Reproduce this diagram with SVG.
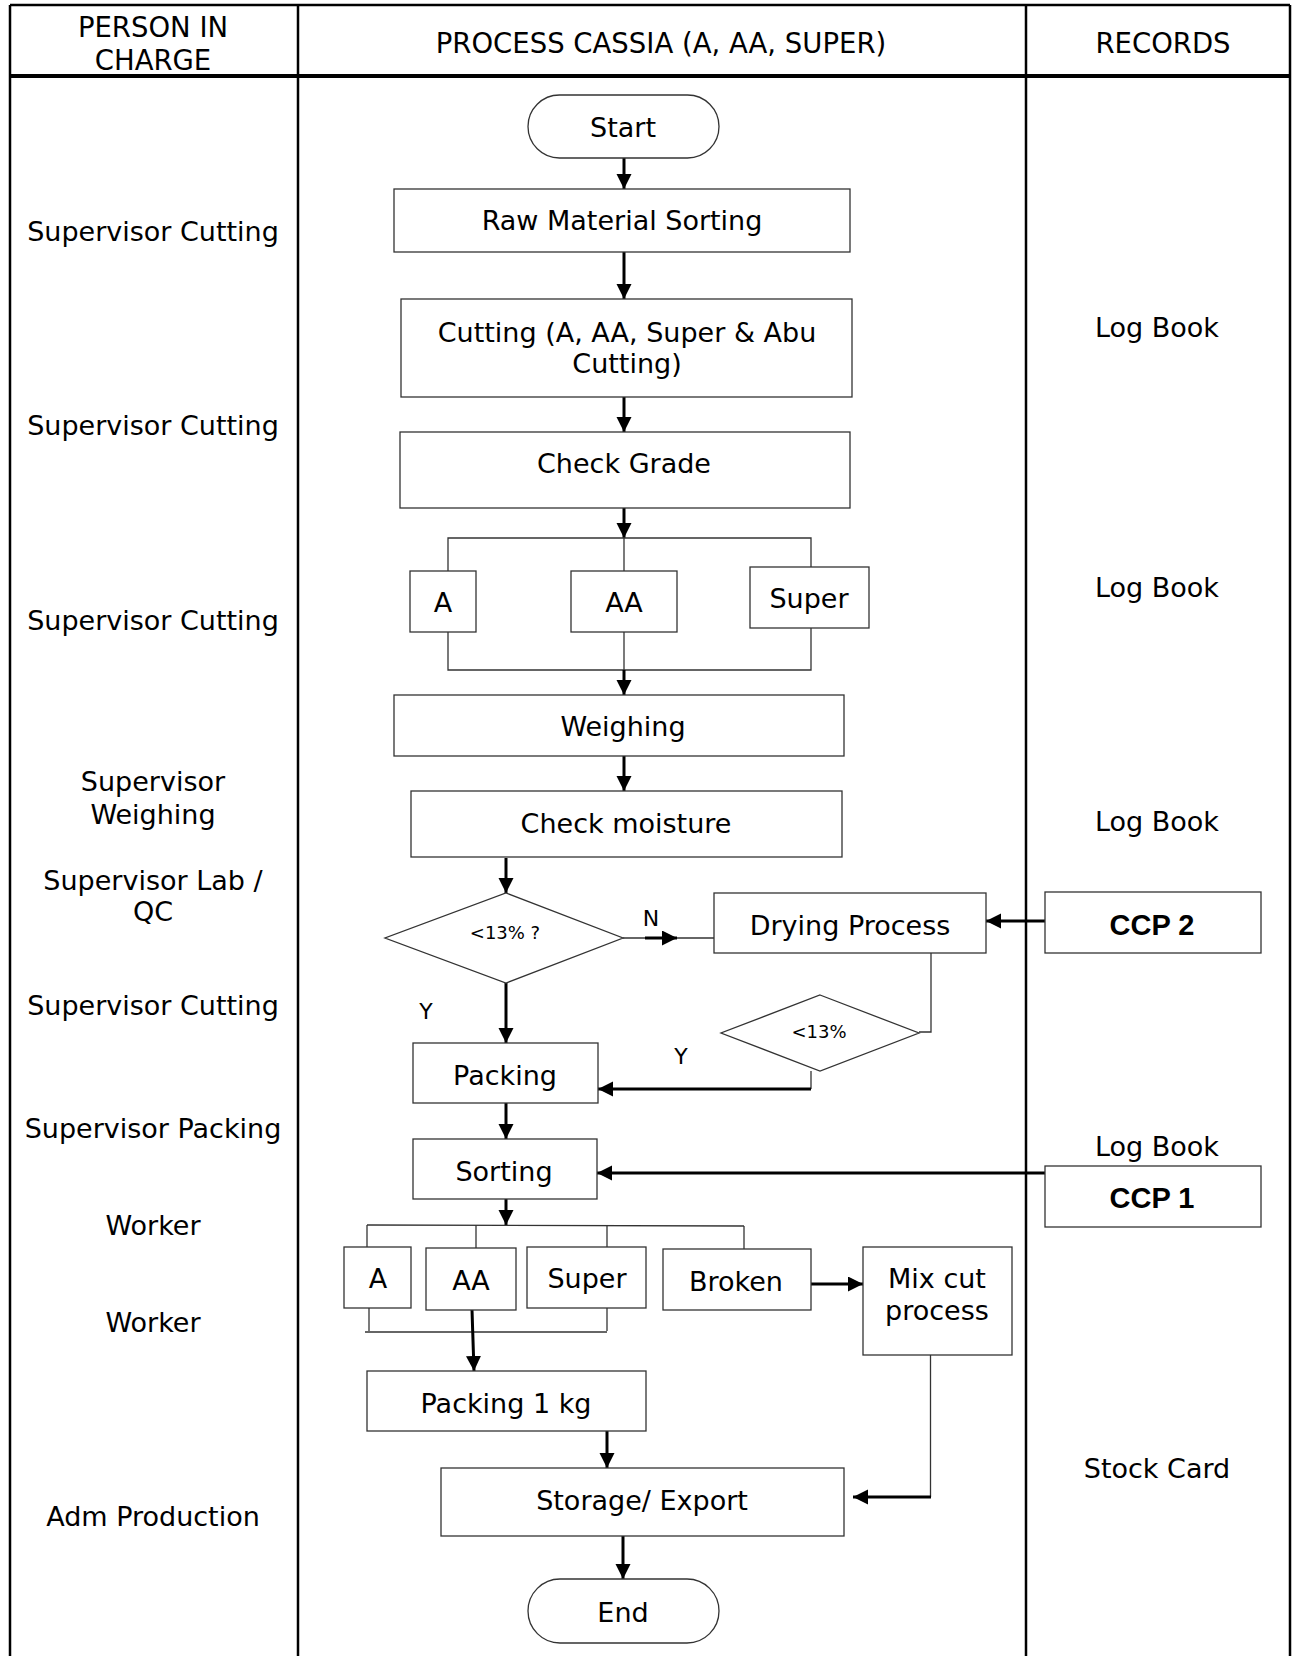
<svg xmlns="http://www.w3.org/2000/svg" width="1300" height="1656" viewBox="0 0 1300 1656">
<defs>
<style>
.frame{stroke:#000;stroke-width:2.5;fill:none}
.box{fill:#fff;stroke:#333;stroke-width:1.3}
.t{font-family:"DejaVu Sans",Verdana,sans-serif;font-size:27px;fill:#000;text-anchor:middle}
.h{font-family:"DejaVu Sans",Verdana,sans-serif;font-size:27.5px;fill:#000;text-anchor:middle}
.s{font-family:"DejaVu Sans",Verdana,sans-serif;font-size:18px;fill:#000;text-anchor:middle}
.b{font-family:"Liberation Sans",Arial,sans-serif;font-size:29px;font-weight:bold;fill:#000;text-anchor:middle}
.thick{stroke:#000;stroke-width:3;fill:none;marker-end:url(#ah)}
.thin{stroke:#333;stroke-width:1.3;fill:none}
</style>
<marker id="ah" markerUnits="userSpaceOnUse" markerWidth="16" markerHeight="16" refX="15" refY="7.5" orient="auto">
<path d="M0,0 L15,7.5 L0,15 z" fill="#000"/>
</marker>
</defs>
<rect width="1300" height="1656" fill="#fff"/>

<g id="table">
<line class="frame" x1="10" y1="5" x2="1290" y2="5"/>
<line class="frame" x1="10" y1="5" x2="10" y2="1656"/>
<line class="frame" x1="298" y1="5" x2="298" y2="1656"/>
<line class="frame" x1="1026" y1="5" x2="1026" y2="1656"/>
<line class="frame" x1="1290" y1="5" x2="1290" y2="1656"/>
<line x1="10" y1="76" x2="1290" y2="76" stroke="#000" stroke-width="4"/>
<text class="h" x="153" y="37">PERSON IN</text>
<text class="h" x="153" y="70">CHARGE</text>
<text class="h" x="661" y="53">PROCESS CASSIA (A, AA, SUPER)</text>
<text class="h" x="1163" y="53">RECORDS</text>
</g>

<g id="persons">
<text class="t" x="153" y="241">Supervisor Cutting</text>
<text class="t" x="153" y="435">Supervisor Cutting</text>
<text class="t" x="153" y="630">Supervisor Cutting</text>
<text class="t" x="153" y="791">Supervisor</text>
<text class="t" x="153" y="824">Weighing</text>
<text class="t" x="153" y="890">Supervisor Lab /</text>
<text class="t" x="153" y="921">QC</text>
<text class="t" x="153" y="1015">Supervisor Cutting</text>
<text class="t" x="153" y="1138">Supervisor Packing</text>
<text class="t" x="153" y="1235">Worker</text>
<text class="t" x="153" y="1332">Worker</text>
<text class="t" x="153" y="1526">Adm Production</text>
</g>

<g id="records">
<text class="t" x="1157" y="337">Log Book</text>
<text class="t" x="1157" y="597">Log Book</text>
<text class="t" x="1157" y="831">Log Book</text>
<text class="t" x="1157" y="1156">Log Book</text>
<text class="t" x="1157" y="1478">Stock Card</text>
</g>

<g id="connectors">
<line class="thick" x1="624" y1="158" x2="624" y2="189"/>
<line class="thick" x1="624" y1="252" x2="624" y2="299"/>
<line class="thick" x1="624" y1="397" x2="624" y2="432"/>
<line class="thick" x1="624" y1="508" x2="624" y2="538"/>
<polyline class="thin" points="448,571 448,538 811,538 811,567"/>
<line class="thin" x1="624" y1="538" x2="624" y2="571"/>
<polyline class="thin" points="448,632 448,670 811,670 811,628"/>
<line class="thin" x1="624" y1="632" x2="624" y2="670"/>
<line class="thick" x1="624" y1="670" x2="624" y2="695"/>
<line class="thick" x1="624" y1="756" x2="624" y2="791"/>
<line class="thick" x1="506" y1="858" x2="506" y2="893"/>
<line class="thin" x1="623" y1="938" x2="714" y2="938"/>
<line class="thick" x1="645" y1="938" x2="677" y2="938"/>
<text class="t" x="651" y="926" style="font-size:22px">N</text>
<line class="thick" x1="506" y1="983" x2="506" y2="1043"/>
<text class="t" x="426" y="1019" style="font-size:22px">Y</text>
<line class="thick" x1="1045" y1="921" x2="986" y2="921"/>
<polyline class="thin" points="931,953 931,1032 919,1032"/>
<line class="thin" x1="811" y1="1071" x2="811" y2="1089"/>
<line class="thick" x1="811" y1="1089" x2="598" y2="1089"/>
<text class="t" x="681" y="1064" style="font-size:22px">Y</text>
<line class="thick" x1="506" y1="1103" x2="506" y2="1139"/>
<line class="thick" x1="1045" y1="1173" x2="597" y2="1173"/>
<line class="thick" x1="506" y1="1199" x2="506" y2="1225"/>
<line class="thin" x1="367" y1="1225" x2="744" y2="1226"/>
<line class="thin" x1="367" y1="1225" x2="367" y2="1247"/>
<line class="thin" x1="476" y1="1225" x2="476" y2="1248"/>
<line class="thin" x1="607" y1="1226" x2="607" y2="1247"/>
<line class="thin" x1="744" y1="1226" x2="744" y2="1249"/>
<line class="thick" x1="811" y1="1284" x2="863" y2="1284"/>
<line class="thin" x1="369" y1="1308" x2="369" y2="1331"/>
<line class="thin" x1="607" y1="1308" x2="607" y2="1331"/>
<line class="thin" x1="365" y1="1332" x2="607" y2="1332"/>
<line class="thick" x1="472" y1="1310" x2="474" y2="1371"/>
<line class="thick" x1="607" y1="1431" x2="607" y2="1468"/>
<line class="thin" x1="930.5" y1="1355" x2="930.5" y2="1497"/>
<line class="thick" x1="931" y1="1497" x2="853" y2="1497"/>
<line class="thick" x1="623" y1="1536" x2="623" y2="1579"/>
</g>

<g id="start"><rect class="box" x="528" y="95" width="191" height="63" rx="31.5"/><text class="t" x="623" y="137">Start</text></g>
<g id="raw-material-sorting"><rect class="box" x="394" y="189" width="456" height="63"/><text class="t" x="622" y="230">Raw Material Sorting</text></g>
<g id="cutting"><rect class="box" x="401" y="299" width="451" height="98"/><text class="t" x="627" y="342">Cutting (A, AA, Super &amp; Abu</text><text class="t" x="627" y="373">Cutting)</text></g>
<g id="check-grade"><rect class="box" x="400" y="432" width="450" height="76"/><text class="t" x="624" y="473">Check Grade</text></g>
<g id="grade-a"><rect class="box" x="410" y="571" width="66" height="61"/><text class="t" x="443" y="612">A</text></g>
<g id="grade-aa"><rect class="box" x="571" y="571" width="106" height="61"/><text class="t" x="624" y="612">AA</text></g>
<g id="grade-super"><rect class="box" x="750" y="567" width="119" height="61"/><text class="t" x="809" y="608">Super</text></g>
<g id="weighing"><rect class="box" x="394" y="695" width="450" height="61"/><text class="t" x="623" y="736">Weighing</text></g>
<g id="check-moisture"><rect class="box" x="411" y="791" width="431" height="66"/><text class="t" x="626" y="833">Check moisture</text></g>
<g id="decision-1"><polygon class="box" points="506,893 623,938 506,983 385,938"/><text class="s" x="505" y="939">&lt;13% ?</text></g>
<g id="drying-process"><rect class="box" x="714" y="893" width="272" height="60"/><text class="t" x="850" y="935">Drying Process</text></g>
<g id="ccp2"><rect class="box" x="1045" y="892" width="216" height="61"/><text class="b" x="1152" y="935">CCP 2</text></g>
<g id="decision-2"><polygon class="box" points="820,995 919,1033 820,1071 721,1033"/><text class="s" x="819" y="1038">&lt;13%</text></g>
<g id="packing"><rect class="box" x="413" y="1043" width="185" height="60"/><text class="t" x="505" y="1085">Packing</text></g>
<g id="sorting"><rect class="box" x="413" y="1139" width="184" height="60"/><text class="t" x="504" y="1181">Sorting</text></g>
<g id="ccp1"><rect class="box" x="1045" y="1166" width="216" height="61"/><text class="b" x="1152" y="1208">CCP 1</text></g>
<g id="sort-a"><rect class="box" x="344" y="1247" width="67" height="61"/><text class="t" x="378" y="1288">A</text></g>
<g id="sort-aa"><rect class="box" x="426" y="1248" width="90" height="62"/><text class="t" x="471" y="1290">AA</text></g>
<g id="sort-super"><rect class="box" x="527" y="1247" width="119" height="61"/><text class="t" x="587" y="1288">Super</text></g>
<g id="sort-broken"><rect class="box" x="663" y="1249" width="148" height="61"/><text class="t" x="736" y="1291">Broken</text></g>
<g id="mix-cut"><rect class="box" x="863" y="1247" width="149" height="108"/><text class="t" x="937" y="1288">Mix cut</text><text class="t" x="937" y="1320">process</text></g>
<g id="packing-1kg"><rect class="box" x="367" y="1371" width="279" height="60"/><text class="t" x="506" y="1413">Packing 1 kg</text></g>
<g id="storage-export"><rect class="box" x="441" y="1468" width="403" height="68"/><text class="t" x="642" y="1510">Storage/ Export</text></g>
<g id="end"><rect class="box" x="528" y="1579" width="191" height="64" rx="32"/><text class="t" x="623" y="1622">End</text></g>
</svg>
